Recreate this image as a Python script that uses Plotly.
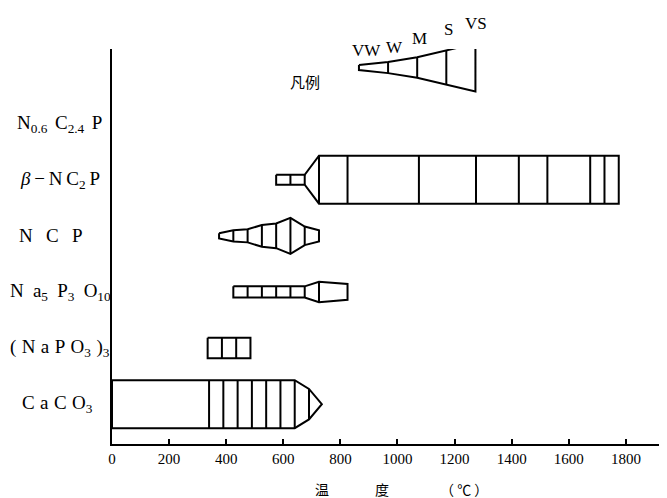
import numpy as np
import plotly.graph_objects as go

# ---------------- data ----------------
TS = "\u2009"  # thin space, mimics the wide letter spacing of the original
HS = "\u200a"  # hair space
ES = "\u2002"  # en space
materials = [
    (TS + HS).join(["C", "a", "C", "O<sub>3</sub>"]),
    (TS + HS).join(["(", "N", "a", "P", "O<sub>3</sub>", ")<sub>3</sub>"]),
    (TS + TS + HS).join(["N", "a<sub>5</sub>", "P<sub>3</sub>", "O<sub>10</sub>"]),
    (ES + TS).join(["N", "C", "P"]),
    TS.join(["<i>β</i>", "−", "N", "C<sub>2</sub>", "P"]),
    (TS + TS).join(["N<sub>0.6</sub>", "C<sub>2.4</sub>", "P"]),
]

# boundary temperatures (°C) and relative intensity at each boundary
# intensity scale: 1=VW, 2=W, 3=M, 4=S, 5=VS
caco3_temps = [0, 340, 390, 440, 490, 540, 590, 640, 690, 735]
caco3_levels = [5, 5, 5, 5, 5, 5, 5, 5, 3.7, 0]

napo3_temps = [335, 385, 435, 485]
napo3_levels = [3, 3, 3, 3]

na5p3o10_temps = [425, 475, 525, 575, 625, 675, 725, 825]
na5p3o10_levels = [2, 2, 2, 2, 2, 2, 3, 2.5]

ncp_temps = [375, 425, 475, 525, 575, 625, 675, 725]
ncp_levels = [1, 2, 2.2, 3.1, 3.3, 4.1, 2.8, 2]

bnc2p_temps = [575, 625, 675, 725, 825, 1075, 1275, 1425, 1525, 1675, 1725, 1775]
bnc2p_levels = [1.8, 1.8, 1.8, 5, 5, 5, 5, 5, 5, 5, 5, 5]

n06c24p_temps = []
n06c24p_levels = []

legend_labels = ["VW", "W", "M", "S", "VS"]
legend_levels = [1, 2, 3, 4, 5]

x_ticks = [0, 200, 400, 600, 800, 1000, 1200, 1400, 1600, 1800]

rows = [
    (caco3_temps, caco3_levels),
    (napo3_temps, napo3_levels),
    (na5p3o10_temps, na5p3o10_levels),
    (ncp_temps, ncp_levels),
    (bnc2p_temps, bnc2p_levels),
    (n06c24p_temps, n06c24p_levels),
]

# ---------------- styling / geometry helpers ----------------
ROW_PX = 55.0
LEVEL_PX = np.array([0, 2.5, 5.5, 10, 17, 23.5])
Y_RANGE = [-0.71, 6.33]
X_RANGE = [0, 1944]
PLOT_W, PLOT_H = 555.0, 387.0
OFF = 8  # page body margin of the html page
label_left_px = [20, 8, 8, 17, 18, 15]


def half_height(levels):
    return np.interp(np.asarray(levels, float), np.arange(6), LEVEL_PX) / ROW_PX


def band(temps, levels, yc):
    temps = np.asarray(temps, float)
    h = half_height(levels)
    xs = list(temps) + list(temps[::-1]) + [temps[0]]
    ys = list(yc + h) + list((yc - h)[::-1]) + [yc + h[0]]
    dx, dy = [], []
    for t, hh in zip(temps[1:-1], h[1:-1]):
        dx += [t, t, None]
        dy += [yc - hh, yc + hh, None]
    return xs, ys, dx, dy


def ypaper(yv):
    return (yv - Y_RANGE[0]) / (Y_RANGE[1] - Y_RANGE[0])


fig = go.Figure()
LINE = dict(color="black", width=2)

for i, (temps, levels) in enumerate(rows):
    if len(temps) < 2:
        continue
    xs, ys, dx, dy = band(temps, levels, i)
    fig.add_trace(go.Scatter(x=xs, y=ys, mode="lines", fill="toself",
                             fillcolor="white", line=LINE, hoverinfo="skip",
                             showlegend=False))
    fig.add_trace(go.Scatter(x=dx, y=dy, mode="lines", line=LINE,
                             hoverinfo="skip", showlegend=False))

# legend wedge ("凡例")
leg_x0, leg_step, leg_y = 865, 102, 6.0
leg_temps = [leg_x0 + k * leg_step for k in range(len(legend_levels))]
xs, ys, dx, dy = band(leg_temps, legend_levels, leg_y)
fig.add_trace(go.Scatter(x=xs, y=ys, mode="lines", fill="toself",
                         fillcolor="white", line=LINE, hoverinfo="skip",
                         showlegend=False))
fig.add_trace(go.Scatter(x=dx, y=dy, mode="lines", line=LINE,
                         hoverinfo="skip", showlegend=False))

annotations = []
hh = half_height(legend_levels)
label_xshift = [8, 6, 2, 2, 1]
label_yshift = [3, 3, 7, 9, 9]
for t, lab, h, xsft, ysft in zip(leg_temps, legend_labels, hh, label_xshift, label_yshift):
    annotations.append(dict(x=(t - X_RANGE[0]) / (X_RANGE[1] - X_RANGE[0]),
                            y=ypaper(leg_y + h), xref="paper", yref="paper",
                            text=lab, showarrow=False, xanchor="center",
                            yanchor="bottom", xshift=xsft, yshift=ysft,
                            font=dict(family="Liberation Serif", size=17, color="black")))
annotations.append(dict(x=676, y=5.75, xref="x", yref="y", text="凡例",
                        showarrow=False,
                        font=dict(family="Noto Sans CJK SC", size=15, color="black")))

for i, name in enumerate(materials):
    annotations.append(dict(x=(label_left_px[i] - 112) / PLOT_W, xref="paper",
                            y=i, yref="y",
                            text=name, showarrow=False, xanchor="left",
                            yanchor="middle",
                            font=dict(family="Liberation Serif", size=19, color="black")))

for txt, px in [("温", 322), ("度", 382), ("（ ℃ ）", 464)]:
    annotations.append(dict(x=(px - 112) / PLOT_W, xref="paper",
                            y=-(480 - 436) / PLOT_H, yref="paper",
                            xanchor="center", yanchor="middle", text=txt,
                            showarrow=False,
                            font=dict(family="Noto Sans CJK SC", size=14, color="black")))

fig.update_layout(
    width=667 - OFF, height=498 - OFF,
    margin=dict(l=112 - OFF, r=0, t=49 - OFF, b=62 - OFF),
    plot_bgcolor="white", paper_bgcolor="white",
    showlegend=False,
    annotations=annotations,
    xaxis=dict(range=X_RANGE, tickvals=x_ticks, ticks="inside", ticklen=5,
               tickwidth=1.5, tickcolor="black", showline=True, linecolor="black",
               linewidth=2, showgrid=False, zeroline=False,
               ticklabelstandoff=0,
               tickfont=dict(family="Liberation Serif", size=15, color="black")),
    yaxis=dict(range=Y_RANGE, showline=True, linecolor="black", linewidth=2,
               showgrid=False, zeroline=False, showticklabels=False, ticks=""),
)

fig.write_html("out.html")
